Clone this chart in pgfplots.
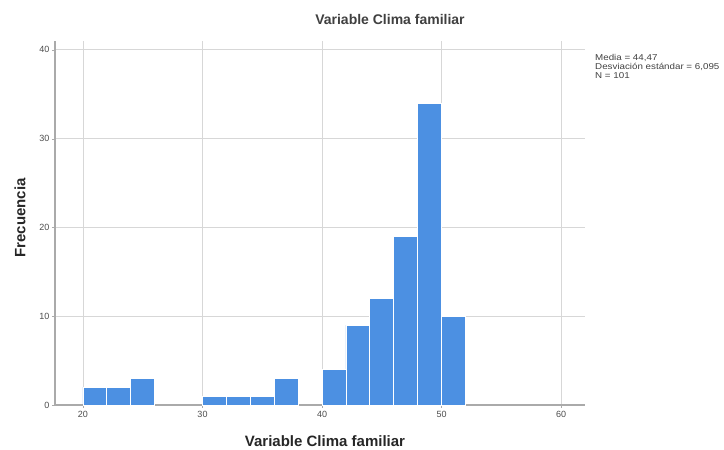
\documentclass[border=0pt]{standalone}
\usepackage{pgfplots}
\pgfplotsset{compat=1.18}
\usepackage{fontspec}
\setmainfont{Liberation Sans}
\definecolor{barblue}{RGB}{76,144,226}
\definecolor{gridgray}{RGB}{215,215,215}
\definecolor{axisgray}{RGB}{170,170,170}
\begin{document}
\begin{tikzpicture}[x=1pt,y=1pt]
\useasboundingbox (0,0) rectangle (724,450);
\begin{axis}[
  at={(55pt,45pt)}, anchor=south west,
  scale only axis, width=530pt, height=364pt,
  xmin=17.66, xmax=62.0, ymin=0, ymax=41.0,
  axis lines*=left,
  axis line style={axisgray, line width=1.2pt},
  xtick={20,30,40,50,60}, ytick={0,10,20,30,40},
  tick align=outside, major tick length=3pt,
  tick style={axisgray},
  grid=major, major grid style={gridgray, line width=0.8pt},
  /pgf/number format/assume math mode=true,
  ticklabel style={font=\fontsize{9}{10}\selectfont, text=black!70},
  yticklabel style={xshift=1pt},
  enlargelimits=false,
  clip=false,
]
\addplot[ybar interval, fill=barblue, draw=white, line width=0.8pt] coordinates {(20,2)(22,2)(24,3)(26,3)};
\addplot[ybar interval, fill=barblue, draw=white, line width=0.8pt] coordinates {(30,1)(32,1)(34,1)(36,3)(38,3)};
\addplot[ybar interval, fill=barblue, draw=white, line width=0.8pt] coordinates {(40,4)(42,9)(44,12)(46,19)(48,34)(50,10)(52,10)};
\end{axis}
\node[font=\bfseries\fontsize{14}{16}\selectfont, text=black!75] at (390,430) {Variable Clima familiar};
\node[font=\bfseries\fontsize{15}{17}\selectfont, text=black!85] at (325,9) {Variable Clima familiar};
\node[font=\bfseries\fontsize{15}{17}\selectfont, text=black!85, rotate=90] at (20,232) {Frecuencia};
\node[anchor=north west, align=left, font=\fontsize{8.5}{9}\selectfont, text=black!75, inner sep=0pt, xscale=1.15] at (595,396) {Media = 44,47\\Desviación estándar = 6,095\\N = 101};
\end{tikzpicture}
\end{document}
